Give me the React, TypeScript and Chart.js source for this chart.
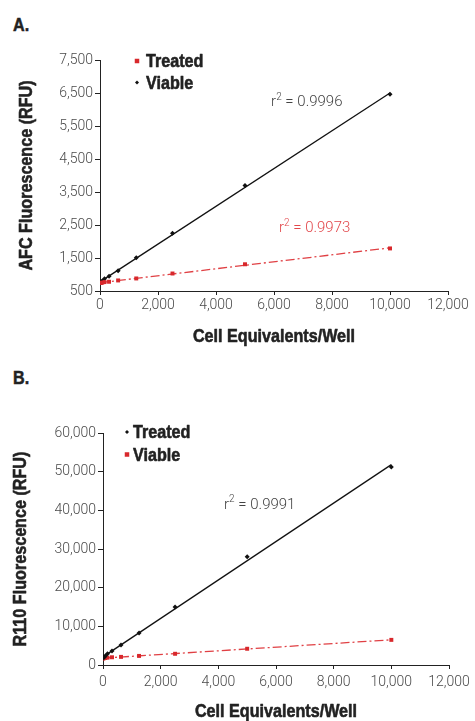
import React, { useEffect, useRef } from "react";
import { Chart, registerables } from "chart.js";

Chart.register(...registerables);

// ---------- data ----------
const cellsPerWell = [0, 39, 78, 156, 312, 625, 1250, 2500, 5000, 10000];

const afcTreated = [740, 745, 755, 770, 780, 820, 880, 1030, 1310, 1790];
const afcViable = [760, 780, 800, 870, 950, 1110, 1510, 2250, 3700, 6460];

const r110Treated = [1800, 2000, 2300, 2900, 3600, 5200, 8300, 15000, 28000, 51200];
const r110Viable = [1700, 1750, 1800, 1900, 2000, 2100, 2350, 2900, 4200, 6500];

const xTickValues = [0, 2000, 4000, 6000, 8000, 10000, 12000];
const afcTickValues = [500, 1500, 2500, 3500, 4500, 5500, 6500, 7500];
const r110TickValues = [0, 10000, 20000, 30000, 40000, 50000, 60000];

const xAxisTitle = "Cell Equivalents/Well";
const afcAxisTitle = "AFC Fluorescence (RFU)";
const r110AxisTitle = "R110 Fluorescence (RFU)";

const afcViableR2 = "0.9996";
const afcTreatedR2 = "0.9973";
const r110TreatedR2 = "0.9991";

// ---------- styles ----------
const BLACK = "#111111";
const RED = "#d8282c";
const RED_LINE = "#e04044";
const RED_TEXT = "#e2474b";
const TICK_FONT = { family: "Roboto, 'Liberation Sans', sans-serif", size: 14, weight: "300" };
const BOLD_FONT = "bold 19px 'Liberation Sans', Arial, sans-serif";
const SQUEEZE = 0.85;

function fitLine(xs: number[], ys: number[]) {
  const n = xs.length;
  const mx = xs.reduce((a, b) => a + b, 0) / n;
  const my = ys.reduce((a, b) => a + b, 0) / n;
  let sxy = 0, sxx = 0;
  for (let i = 0; i < n; i++) {
    sxy += (xs[i] - mx) * (ys[i] - my);
    sxx += (xs[i] - mx) * (xs[i] - mx);
  }
  const m = sxy / sxx;
  const b = my - m * mx;
  const x0 = xs[0], x1 = xs[n - 1];
  return [{ x: x0, y: m * x0 + b }, { x: x1, y: m * x1 + b }];
}

type Series = { label: string; ys: number[]; color: string; lineColor: string; style: "rect" | "rectRot"; dash: number[] };
type Note = { x: number; y: number; value: string; color: string };
type Panel = {
  width: number; height: number;
  padTop: number; padRight: number; yWidth: number; xHeight: number;
  yMin: number; yMax: number; yTicks: number[];
  yTitle: string; yTitleX: number; xTitleY: number; xTickPad: number;
  series: Series[]; notes: Note[];
  legend: { markerDx: number; textDx: number; dy: number; gap: number };
};

function drawMarker(ctx: CanvasRenderingContext2D, style: string, x: number, y: number, color: string, s: number) {
  ctx.fillStyle = color;
  if (style === "rect") {
    ctx.fillRect(x - s / 2, y - s / 2, s, s);
  } else {
    ctx.beginPath();
    ctx.moveTo(x, y - s / 2);
    ctx.lineTo(x + s / 2, y);
    ctx.lineTo(x, y + s / 2);
    ctx.lineTo(x - s / 2, y);
    ctx.closePath();
    ctx.fill();
  }
}

function condensedText(ctx: CanvasRenderingContext2D, text: string, x: number, y: number, align: CanvasTextAlign, rotate = 0) {
  ctx.save();
  ctx.translate(x, y);
  if (rotate) ctx.rotate(rotate);
  ctx.scale(SQUEEZE, 1);
  ctx.font = BOLD_FONT;
  ctx.fillStyle = "#222";
  ctx.strokeStyle = "#222";
  ctx.lineWidth = 0.6;
  ctx.lineJoin = "round";
  ctx.textAlign = align;
  ctx.textBaseline = "middle";
  ctx.fillText(text, 0, 0);
  ctx.strokeText(text, 0, 0);
  ctx.restore();
}

function buildChart(canvas: HTMLCanvasElement, p: Panel) {
  const datasets: any[] = [];
  p.series.forEach((s) => {
    datasets.push({
      label: s.label + " fit",
      data: fitLine(cellsPerWell, s.ys),
      showLine: true,
      borderColor: s.lineColor,
      borderWidth: 1.3,
      borderDash: s.dash,
      pointRadius: 0,
      order: 2,
    });
  });
  p.series.forEach((s) => {
    datasets.push({
      label: s.label,
      data: cellsPerWell.map((x, i) => ({ x, y: s.ys[i] })),
      showLine: false,
      pointStyle: s.style,
      pointRadius: s.style === "rect" ? 2.8 : 2.5,
      backgroundColor: s.color,
      borderColor: s.color,
      borderWidth: 0,
      order: 1,
    });
  });

  const overlay = {
    id: "overlay",
    afterDraw(chart: any) {
      const ctx = chart.ctx as CanvasRenderingContext2D;
      const area = chart.chartArea;
      const xs = chart.scales.x;
      const ys = chart.scales.y;
      ctx.save();
      // axis titles
      condensedText(ctx, xAxisTitle, (xs.left + xs.right) / 2, p.xTitleY, "center");
      condensedText(ctx, p.yTitle, p.yTitleX, (area.top + area.bottom) / 2, "center", -Math.PI / 2);
      // legend
      p.series.forEach((s, i) => {
        const y = area.top + p.legend.dy + i * p.legend.gap;
        drawMarker(ctx, s.style, area.left + p.legend.markerDx, y, s.color, s.style === "rect" ? 4.5 : 4);
        condensedText(ctx, s.label, area.left + p.legend.textDx, y + 1, "left");
      });
      // r^2 notes
      p.notes.forEach((n) => {
        const px = xs.getPixelForValue(n.x);
        const py = ys.getPixelForValue(n.y);
        ctx.fillStyle = n.color;
        ctx.textAlign = "left";
        ctx.textBaseline = "middle";
        ctx.font = `300 15px Roboto, 'Liberation Sans', sans-serif`;
        ctx.fillText("r", px, py);
        const w = ctx.measureText("r").width;
        ctx.font = `300 10px Roboto, 'Liberation Sans', sans-serif`;
        ctx.fillText("2", px + w, py - 5);
        const w2 = ctx.measureText("2").width;
        ctx.font = `300 15px Roboto, 'Liberation Sans', sans-serif`;
        ctx.fillText(" = " + n.value, px + w + w2, py);
      });
      ctx.restore();
    },
  };

  return new Chart(canvas, {
    type: "scatter",
    data: { datasets },
    plugins: [overlay],
    options: {
      responsive: false,
      animation: false,
      devicePixelRatio: 1,
      layout: { padding: { top: p.padTop, right: p.padRight, left: 0, bottom: 0 } },
      plugins: { legend: { display: false }, tooltip: { enabled: false } },
      scales: {
        x: {
          type: "linear",
          min: 0,
          max: 12000,
          afterBuildTicks: (s: any) => { s.ticks = xTickValues.map((v) => ({ value: v })); },
          afterFit: (s: any) => { s.height = p.xHeight; },
          ticks: {
            font: TICK_FONT as any,
            color: "#4a4a4a",
            padding: p.xTickPad,
            maxRotation: 0,
            callback: (v: any) => Number(v).toLocaleString("en-US"),
          },
          grid: { drawOnChartArea: false, drawTicks: true, tickLength: 4, color: "#222" },
          border: { display: true, color: "#222", width: 1 },
        },
        y: {
          type: "linear",
          min: p.yMin,
          max: p.yMax,
          afterBuildTicks: (s: any) => { s.ticks = p.yTicks.map((v) => ({ value: v })); },
          afterFit: (s: any) => { s.width = p.yWidth; },
          ticks: {
            font: TICK_FONT as any,
            color: "#4a4a4a",
            padding: 2,
            callback: (v: any) => Number(v).toLocaleString("en-US"),
          },
          grid: { drawOnChartArea: false, drawTicks: true, tickLength: 5, color: "#222" },
          border: { display: true, color: "#222", width: 1 },
        },
      },
    } as any,
  });
}

const panelA: Panel = {
  width: 475, height: 350,
  padTop: 60, padRight: 27, yWidth: 100, xHeight: 59,
  yMin: 500, yMax: 7500, yTicks: afcTickValues,
  yTitle: afcAxisTitle, yTitleX: 27, xTitleY: 337, xTickPad: 2,
  series: [
    { label: "Treated", ys: afcTreated, color: RED, lineColor: RED_LINE, style: "rect", dash: [9, 3, 2, 3] },
    { label: "Viable", ys: afcViable, color: BLACK, lineColor: BLACK, style: "rectRot", dash: [] },
  ],
  notes: [
    { x: 5900, y: 6227, value: afcViableR2, color: "#444" },
    { x: 6170, y: 2409, value: afcTreatedR2, color: RED_TEXT },
  ],
  legend: { markerDx: 37, textDx: 46, dy: 1, gap: 21.5 },
};

const panelB: Panel = {
  width: 475, height: 363,
  padTop: 75, padRight: 26, yWidth: 103, xHeight: 56,
  yMin: 0, yMax: 60000, yTicks: r110TickValues,
  yTitle: r110AxisTitle, yTitleX: 21, xTitleY: 354, xTickPad: 5,
  series: [
    { label: "Treated", ys: r110Treated, color: BLACK, lineColor: BLACK, style: "rectRot", dash: [] },
    { label: "Viable", ys: r110Viable, color: RED, lineColor: RED_LINE, style: "rect", dash: [9, 3, 2, 3] },
  ],
  notes: [{ x: 4197, y: 41380, value: r110TreatedR2, color: "#444" }],
  legend: { markerDx: 24, textDx: 30, dy: -1, gap: 22.5 },
};

function ChartPanel({ panel, top }: { panel: Panel; top: number }) {
  const ref = useRef<HTMLCanvasElement | null>(null);
  useEffect(() => {
    if (!ref.current) return;
    const chart = buildChart(ref.current, panel);
    return () => chart.destroy();
  }, [panel]);
  return (
    <div style={{ position: "absolute", left: 0, top, width: panel.width, height: panel.height }}>
      <canvas ref={ref} width={panel.width} height={panel.height} style={{ display: "block" }} />
    </div>
  );
}

const labelStyle: React.CSSProperties = {
  position: "absolute",
  left: 13,
  fontFamily: "'Liberation Sans', Arial, sans-serif",
  fontWeight: "bold",
  fontSize: 19,
  lineHeight: "20px",
  color: "#222",
  WebkitTextStroke: "0.5px #222",
  transform: `scaleX(${SQUEEZE})`,
  transformOrigin: "left center",
};

export default function App() {
  return (
    <div>
      <div style={{ ...labelStyle, top: 15 }}>A.</div>
      <ChartPanel panel={panelA} top={0} />
      <div style={{ ...labelStyle, top: 368 }}>B.</div>
      <ChartPanel panel={panelB} top={358} />
    </div>
  );
}
